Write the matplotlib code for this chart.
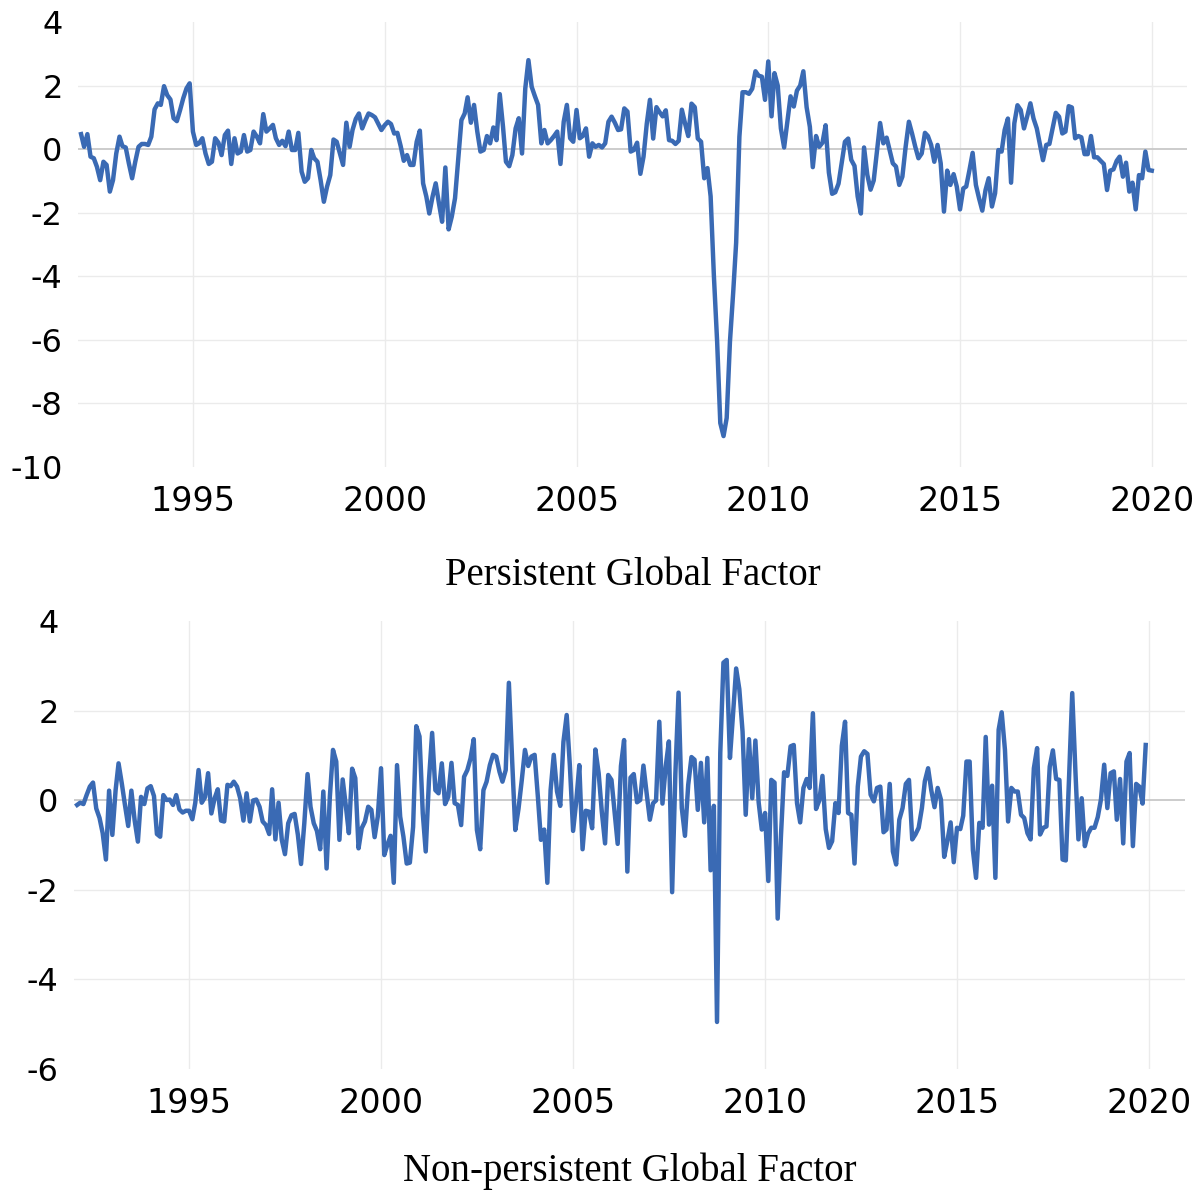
import pandas as pd
import matplotlib
matplotlib.use("Agg")
from matplotlib import pyplot as plt
import matplotlib.dates as mdates

# Monthly factor values, Jan 1992 onwards
persistent = [
    0.47, 0.07, 0.47, -0.24, -0.29, -0.56, -0.98, -0.4, -0.5, -1.34,
    -0.98, -0.14, 0.39, 0.09, 0.05, -0.45, -0.92, -0.4, 0.07, 0.16,
    0.16, 0.13, 0.39, 1.25, 1.44, 1.39, 1.98, 1.7, 1.56, 0.97,
    0.88, 1.23, 1.6, 1.91, 2.07, 0.55, 0.13, 0.18, 0.34, -0.14,
    -0.47, -0.4, 0.34, 0.2, -0.19, 0.44, 0.58, -0.47, 0.34, -0.14,
    -0.08, 0.44, -0.08, -0.03, 0.55, 0.39, 0.18, 1.1, 0.55, 0.65,
    0.76, 0.34, 0.13, 0.26, 0.09, 0.55, -0.03, -0.03, 0.51, -0.71,
    -1.03, -0.92, -0.03, -0.29, -0.4, -0.98, -1.66, -1.19, -0.82, 0.3,
    0.23, -0.14, -0.5, 0.83, 0.07,
    0.6, 0.95, 1.12, 0.65, 0.9, 1.12, 1.07, 1.0, 0.8, 0.6,
    0.75, 0.86, 0.79, 0.49, 0.51, 0.1, -0.37, -0.19, -0.5, -0.5,
    0.23, 0.58, -1.08, -1.5, -2.03, -1.5, -1.08, -1.71, -2.29, -0.58,
    -2.53, -2.13, -1.55, -0.35, 0.91, 1.12, 1.63, 0.83, 1.39, 0.55,
    -0.08, -0.03, 0.41, 0.18, 0.68, 0.28, 1.73, 0.7, -0.4, -0.54,
    -0.19, 0.65, 0.97, -0.14, 1.91, 2.8, 1.96, 1.67, 1.39, 0.18,
    0.6, 0.18, 0.28, 0.41, 0.55, -0.47, 0.86, 1.39, 0.34, 0.23,
    1.23, 0.34, 0.41, 0.65, -0.24, 0.18, 0.07, 0.13, 0.05, 0.18,
    0.86, 1.02, 0.83, 0.6, 0.62, 1.28, 1.18,
    -0.08, -0.03, 0.2, -0.78, -0.24, 0.8, 1.55, 0.33, 1.32, 1.17,
    1.03, 1.22, 0.28, 0.26, 0.16, 0.26, 1.24, 0.8, 0.41, 1.43,
    1.32, 0.33, 0.23, -0.92, -0.6, -1.49, -3.99, -6.07, -8.63, -9.04,
    -8.47, -6.07, -4.51, -2.95, 0.39, 1.79, 1.79, 1.74, 1.9, 2.45,
    2.31, 2.28, 1.55, 2.76, 1.03, 2.39, 2.0, 0.65, 0.05, 0.85,
    1.66, 1.34, 1.84, 2.0, 2.45, 1.32, 0.7, -0.57, 0.41, 0.07,
    0.2, 0.75, -0.74, -1.41, -1.36, -1.09, -0.43, 0.23, 0.33, -0.34,
    -0.53, -1.49, -2.03, 0.05, -0.81, -1.28, -0.99, -0.08, 0.82, 0.18,
    0.36, -0.03, -0.45, -0.55, -1.13,
    -0.87, 0.07, 0.86, 0.49, 0.07, -0.29, -0.14, 0.51, 0.41, 0.13,
    -0.4, 0.13, -0.45, -1.97, -0.68, -1.13, -0.79, -1.18, -1.9, -1.24,
    -1.18, -0.66, -0.12, -1.13, -1.55, -1.94, -1.29, -0.92, -1.81, -1.39,
    -0.03, -0.08, 0.6, 0.96, -1.06, 0.81, 1.38, 1.23, 0.65, 1.02,
    1.44, 0.96, 0.65, 0.13, -0.35, 0.13, 0.16, 0.65, 1.14, 1.02,
    0.49, 0.55, 1.35, 1.31, 0.34, 0.41, 0.37, -0.16, -0.16, 0.41,
    -0.26, -0.26, -0.37, -0.47, -1.29, -0.68, -0.64, -0.37, -0.24, -0.87,
    -0.43, -1.34, -1.06, -1.9, -0.82, -0.92, -0.08, -0.66, -0.68,
]

non_persistent = [
    -0.11, -0.06, -0.09, 0.11, 0.3, 0.39, -0.19, -0.4, -0.74, -1.33,
    0.21, -0.78, 0.22, 0.82, 0.37, -0.11, -0.58, 0.21, -0.45, -0.93,
    0.07, -0.09, 0.26, 0.31, 0.09, -0.76, -0.82, 0.11, 0.0, 0.01,
    -0.11, 0.11, -0.21, -0.28, -0.24, -0.24, -0.43, -0.06, 0.67, -0.06,
    0.06, 0.6, -0.3, 0.04, 0.24, -0.46, -0.48, 0.34, 0.31, 0.41,
    0.3, 0.04, -0.46, 0.15, -0.48, -0.01, 0.01, -0.15, -0.48, -0.56,
    -0.76, 0.24, -0.88, -0.06, -0.89, -1.21, -0.52, -0.34, -0.31, -0.78,
    -1.43, -0.52, 0.58, -0.15, -0.52, -0.69, -1.1, 0.19, -1.53, 0.07,
    1.12, 0.86, -0.89, 0.46, -0.15, -0.74, 0.7, 0.49, -1.08, -0.63,
    -0.48, -0.15, -0.22, -0.83, -0.37, 0.71, -1.23, -1.0, -0.8, -1.85,
    0.78, -0.37, -0.82, -1.42, -1.4, -0.6, 1.65, 1.42, -0.3, -1.15,
    0.45, 1.5, 0.22, 0.15, 0.82, -0.09, 0.07, 0.83, -0.07, -0.11,
    -0.56, 0.52, 0.67, 0.93, 1.36, -0.67, -1.1, 0.22, 0.41, 0.78,
    1.01, 0.97, 0.63, 0.41, 0.67, 2.62, 0.89, -0.67, -0.19, 0.45,
    1.12, 0.76, 0.97, 1.01, 0.07, -0.89, -0.66, -1.85, 0.22, 1.01,
    0.19, -0.13, 1.3, 1.9, 0.78, -0.69, 0.0, 0.78, -1.1, -0.24,
    -0.26, -0.63, 1.13, 0.6, -0.26, -0.97, 0.56, 0.45, -0.3, -0.98,
    0.76, 1.34, -1.6, 0.5, 0.58, -0.05, 0.0, 0.77, 0.16, -0.44,
    -0.07, -0.01, 1.75, -0.08, 0.75, 1.31, -2.06, 0.6, 2.4, -0.18,
    -0.8, 0.34, 0.96, 0.9, -0.22, 0.83, -0.5, 0.94, -1.57, -0.13,
    -4.96, 1.05, 3.07, 3.13, 0.94, 1.87, 2.94, 2.48, 1.53, -0.33,
    1.36, 0.04, 1.33, -0.05, -0.66, -0.29, -1.81, 0.45, 0.39, -2.65,
    -0.81, 0.62, 0.54, 1.2, 1.23, -0.07, -0.5, 0.27, 0.47, 0.27,
    1.94, -0.2, -0.01, 0.54, -0.65, -1.07, -0.92, -0.07, -0.29, 1.21,
    1.75, -0.29, -0.33, -1.42, 0.3, 0.97, 1.09, 1.03, 0.12, -0.03,
    0.27, 0.3, -0.72, -0.66, 0.36, -1.15, -1.44, -0.44, -0.18, 0.36,
    0.45, -0.88, -0.77, -0.62, -0.18, 0.42, 0.71, 0.22, -0.16, 0.27,
    0.01, -1.27, -0.92, -0.5, -1.39, -0.62, -0.65, -0.35, 0.86, 0.86,
    -1.12, -1.74, -0.51, -0.62, 1.41, -0.55, 0.32, -1.74, 1.57, 1.96,
    1.12, -0.48, 0.27, 0.19, 0.19, -0.33, -0.4, -0.74, -0.88, 0.71,
    1.16, -0.77, -0.62, -0.59, 0.75, 1.11, 0.47, 0.45, -1.33, -1.35,
    0.45, 2.39, 0.6, -0.88, 0.04, -1.03, -0.75, -0.62, -0.62, -0.38,
    0.01, 0.79, -0.18, 0.6, 0.64, -0.44, 0.47, -0.97, 0.86, 1.05,
    -1.03, 0.36, 0.3, -0.08, 1.23,
]

titles = ["Persistent Global Factor", "Non-persistent Global Factor"]
yticks_top = [4, 2, 0, -2, -4, -6, -8, -10]
yticks_bottom = [4, 2, 0, -2, -4, -6]
year_ticks = [1995, 2000, 2005, 2010, 2015, 2020]

plt.rcParams["font.family"] = "DejaVu Sans"
plt.rcParams["axes.unicode_minus"] = False

line_color = "#3A6AB4"

fig = plt.figure(figsize=(11.97, 11.92), dpi=100)
ax_top = fig.add_axes([0.0651, 0.6086, 0.9266, 0.3729])
ax_bot = fig.add_axes([0.0618, 0.1036, 0.9282, 0.3754])


def draw_panel(ax, values, yticks, x_right, title, title_y):
    dates = pd.date_range("1992-01-31", periods=len(values), freq=pd.offsets.MonthEnd())
    ax.plot(dates, values, color=line_color, lw=3.2, zorder=3)
    ax.set_xlim(pd.Timestamp("1992-01-01"), x_right)
    ax.set_ylim(min(yticks), max(yticks))
    ax.set_yticks(yticks)
    ax.set_xticks([pd.Timestamp(f"{y}-01-01") for y in year_ticks])
    ax.xaxis.set_major_formatter(mdates.DateFormatter("%Y"))

    ax.grid(True, color="#ebebeb", lw=1.0)
    ax.set_axisbelow(True)
    # no gridlines at the y limits, zero line drawn darker
    for tick, val in zip(ax.yaxis.get_major_ticks(), yticks):
        if val in (min(yticks), max(yticks), 0):
            tick.gridline.set_visible(False)
    ax.axhline(0, color="#c8c8c8", lw=1.3, zorder=2)

    for s in ax.spines.values():
        s.set_visible(False)
    ax.tick_params(axis="x", length=0, labelsize=24, pad=13)
    ax.tick_params(axis="y", length=0, labelsize=23, pad=11)

    ax.text(0.5, title_y, title, transform=ax.transAxes, ha="center", va="baseline",
            family="Liberation Serif", fontsize=28)


draw_panel(ax_top, persistent, yticks_top, pd.Timestamp("2020-12-01"), titles[0], -0.2666)
draw_panel(ax_bot, non_persistent, yticks_bottom, pd.Timestamp("2020-12-08"), titles[1], -0.2514)

fig.savefig("out.png", dpi=100)
